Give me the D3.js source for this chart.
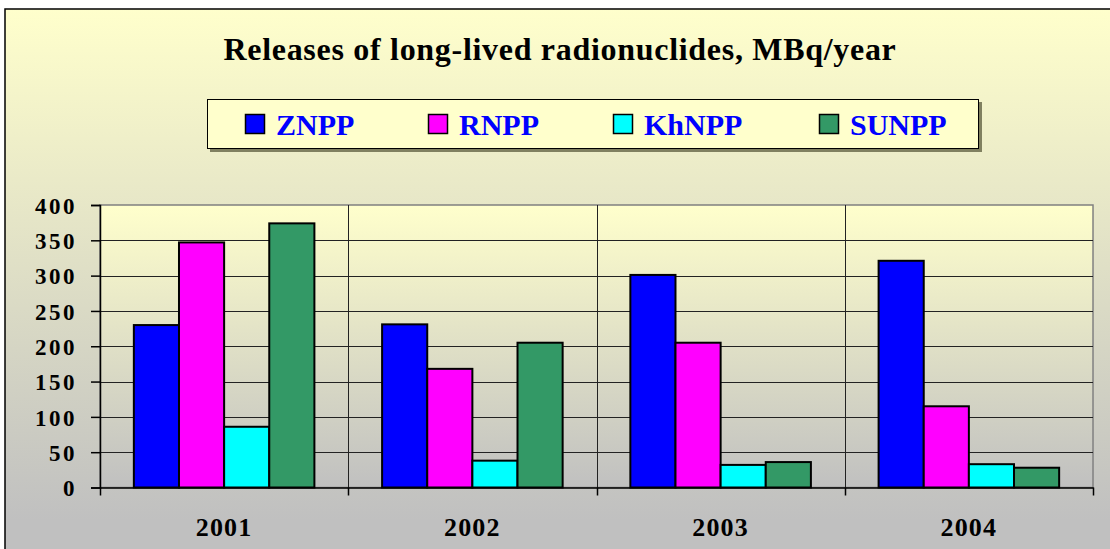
<!DOCTYPE html>
<html>
<head>
<meta charset="utf-8">
<script src="https://cdn.jsdelivr.net/npm/d3@7"></script>
<style>
  body { margin: 0; background: #fff; }
  svg { display: block; }
  text { font-family: "Liberation Serif", "Times New Roman", serif; font-weight: bold; }
</style>
</head>
<body>
<svg id="chart" width="1110" height="549"></svg>
<script>
const years = ["2001", "2002", "2003", "2004"];
const series = ["ZNPP", "RNPP", "KhNPP", "SUNPP"];
const colors = ["#0000ff", "#ff00ff", "#00ffff", "#339966"];
const ZNPP = [230, 231, 301, 321];
const RNPP = [347, 168, 205, 115];
const KhNPP = [86, 38, 32, 33];
const SUNPP = [374, 205, 36, 28];
const yTicks = [0, 50, 100, 150, 200, 250, 300, 350, 400];

const values = { ZNPP, RNPP, KhNPP, SUNPP };
const data = [];
years.forEach((yr, i) => {
    series.forEach(s => data.push({ year: yr, name: s, value: values[s][i] }));
});

const svg = d3.select("#chart");
const plotLeft = 100, plotRight = 1093, plotTop = 205, plotBottom = 487.5;

const defs = svg.append("defs");
const bgGrad = defs.append("linearGradient")
    .attr("id", "bg").attr("gradientUnits", "userSpaceOnUse")
    .attr("x1", 0).attr("y1", 9).attr("x2", 0).attr("y2", 520);
bgGrad.append("stop").attr("offset", 0).attr("stop-color", "#ffffcc");
bgGrad.append("stop").attr("offset", 1).attr("stop-color", "#c0c0c0");

const plotGrad = defs.append("linearGradient")
    .attr("id", "plotbg").attr("gradientUnits", "userSpaceOnUse")
    .attr("x1", 0).attr("y1", plotTop).attr("x2", 0).attr("y2", plotBottom);
plotGrad.append("stop").attr("offset", 0).attr("stop-color", "#ffffcc");
plotGrad.append("stop").attr("offset", 1).attr("stop-color", "#c0c0c0");

// chart area
svg.append("rect")
    .attr("x", 5).attr("y", 9).attr("width", 1200).attr("height", 600)
    .attr("fill", "url(#bg)").attr("stroke", "#000").attr("stroke-width", 1.5);

// title
svg.append("text")
    .attr("x", 560).attr("y", 60)
    .attr("text-anchor", "middle")
    .attr("font-size", 32)
    .attr("letter-spacing", 0.7)
    .text("Releases of long-lived radionuclides, MBq/year");

// legend
svg.append("rect")
    .attr("x", 210).attr("y", 102).attr("width", 772).attr("height", 50)
    .attr("fill", "#808060");
svg.append("rect")
    .attr("x", 207.5).attr("y", 99.5).attr("width", 771).attr("height", 49)
    .attr("fill", "#ffffcc").attr("stroke", "#000").attr("stroke-width", 1);

const legendX = [245, 428, 613, 819];
const legend = svg.selectAll(".legend")
    .data(series)
    .enter()
    .append("g")
    .attr("class", "legend")
    .attr("transform", (d, i) => `translate(${legendX[i]},114)`);
legend.append("rect")
    .attr("x", 0.5).attr("y", 0.5).attr("width", 19).attr("height", 19)
    .attr("fill", (d, i) => colors[i])
    .attr("stroke", "#000").attr("stroke-width", 1.5);
legend.append("text")
    .attr("x", 31).attr("y", 20.5)
    .attr("font-size", 30)
    .attr("fill", "#0000ff")
    .text(d => d);

// scales
const x = d3.scaleBand().domain(years).range([plotLeft, plotRight]).padding(0);
const xs = d3.scaleBand().domain(series).range([0, x.bandwidth()])
    .paddingInner(0).paddingOuter(0.75);
const y = d3.scaleLinear().domain([0, 400]).range([plotBottom, plotTop]);

// plot area
svg.append("rect")
    .attr("x", plotLeft).attr("y", plotTop)
    .attr("width", plotRight - plotLeft).attr("height", plotBottom - plotTop)
    .attr("fill", "url(#plotbg)").attr("stroke", "#808080").attr("stroke-width", 1.5);

// horizontal gridlines
svg.selectAll(".hgrid")
    .data(yTicks.filter(t => t > 0 && t < 400))
    .enter()
    .append("line")
    .attr("x1", plotLeft).attr("x2", plotRight)
    .attr("y1", d => Math.round(y(d)) + 0.5).attr("y2", d => Math.round(y(d)) + 0.5)
    .attr("stroke", "#222").attr("stroke-width", 1);

// vertical category separators
svg.selectAll(".vgrid")
    .data(years.slice(1))
    .enter()
    .append("line")
    .attr("x1", d => Math.round(x(d)) + 0.5).attr("x2", d => Math.round(x(d)) + 0.5)
    .attr("y1", plotTop).attr("y2", plotBottom)
    .attr("stroke", "#222").attr("stroke-width", 1);

// bars
svg.selectAll(".bar")
    .data(data)
    .enter()
    .append("rect")
    .attr("x", d => x(d.year) + xs(d.name))
    .attr("y", d => y(d.value))
    .attr("width", xs.bandwidth())
    .attr("height", d => y(0) - y(d.value))
    .attr("fill", d => colors[series.indexOf(d.name)])
    .attr("stroke", "#000").attr("stroke-width", 2);

// y axis
const yAxis = svg.append("g")
    .attr("transform", `translate(${plotLeft},0)`)
    .call(d3.axisLeft(y).tickValues(yTicks).tickSize(9).tickPadding(14));
yAxis.select(".domain").attr("stroke", "#000").attr("stroke-width", 1.5);
yAxis.selectAll(".tick line").attr("stroke", "#000").attr("stroke-width", 1.5);
yAxis.selectAll(".tick text")
    .attr("font-size", 23)
    .attr("letter-spacing", 2.5)
    .attr("dy", "0.36em")
    .attr("fill", "#000");

// x axis
const xAxis = svg.append("g")
    .attr("transform", `translate(0,${plotBottom})`)
    .call(d3.axisBottom(x).tickSize(0).tickPadding(30));
xAxis.select(".domain").attr("stroke", "#000").attr("stroke-width", 1.5);
xAxis.selectAll(".tick text")
    .attr("font-size", 26)
    .attr("letter-spacing", 1.2)
    .attr("fill", "#000");

svg.selectAll(".xtick")
    .data(x.domain().map(d => x(d)).concat([plotRight]))
    .enter()
    .append("line")
    .attr("x1", d => Math.round(d) + 0.5).attr("x2", d => Math.round(d) + 0.5)
    .attr("y1", plotBottom).attr("y2", plotBottom + 8)
    .attr("stroke", "#000").attr("stroke-width", 1.5);
</script>
</body>
</html>
